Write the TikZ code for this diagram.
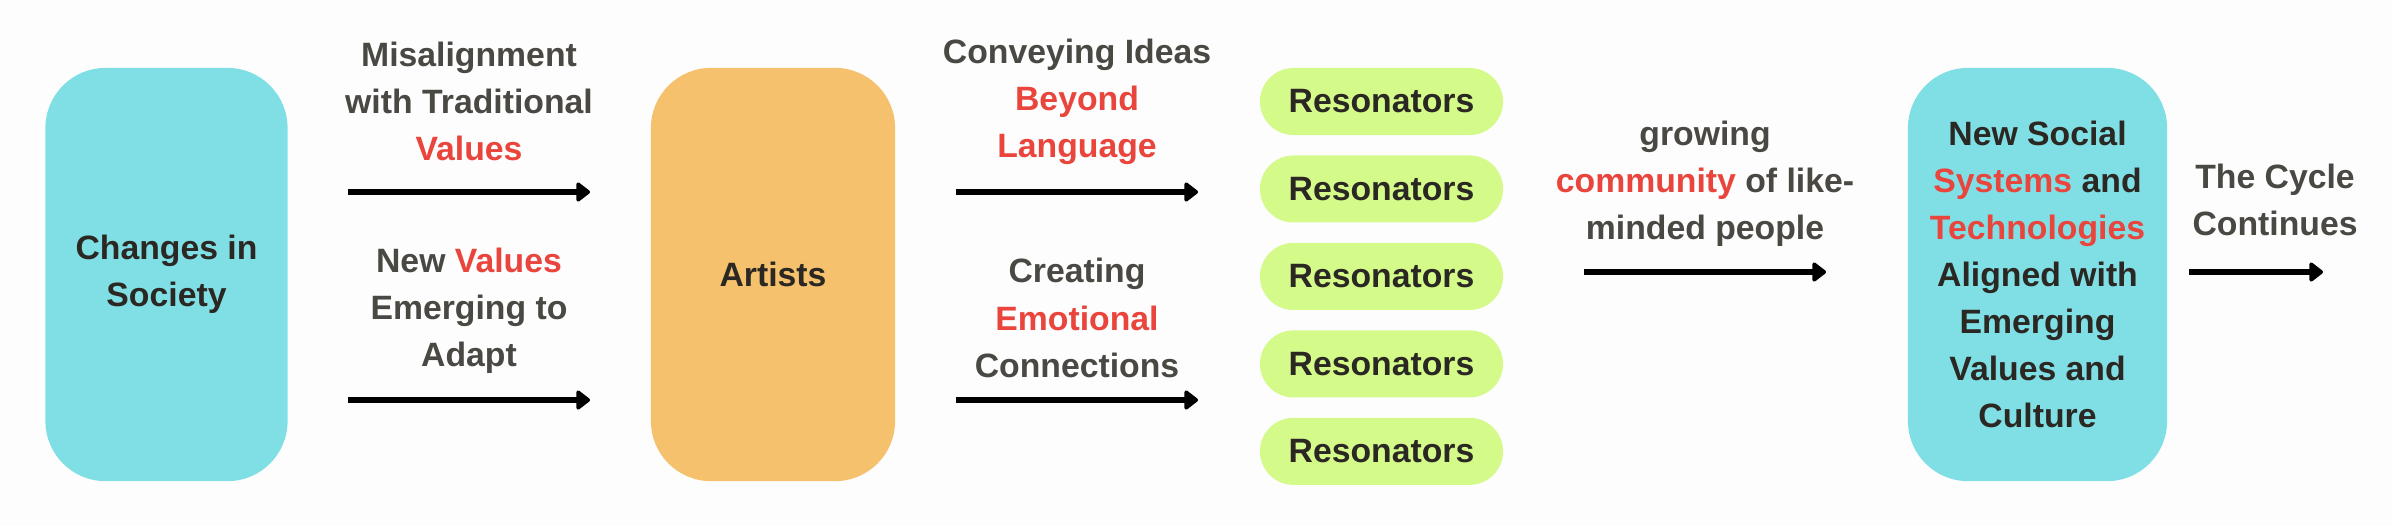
\documentclass[tikz,border=0pt]{standalone}
\usepackage{fontspec}
\setmainfont{Liberation Sans}
\usepackage{color}
\definecolor{mycyan}{RGB}{128,223,228}
\definecolor{myorange}{RGB}{245,193,108}
\definecolor{mylime}{RGB}{212,250,138}
\definecolor{myred}{RGB}{233,69,61}
\definecolor{mygrey}{RGB}{74,72,67}
\definecolor{myblack}{RGB}{43,40,36}
\definecolor{mypaper}{RGB}{253,253,253}
\usepackage{tikz}
\usetikzlibrary{arrows.meta,positioning,calc}
\newcommand{\redword}[1]{\textcolor{myred}{#1}}
\tikzstyle{bigbox}=[fill=mycyan,rounded corners=0.6cm,minimum height=4.13cm,align=center,text=myblack,font=\bfseries\fontsize{9.6}{13.4}\selectfont]
\tikzstyle{pill}=[fill=mylime,rounded corners=0.335cm,minimum width=2.43cm,minimum height=0.67cm,text=myblack,font=\bfseries\fontsize{9.6}{13.4}\selectfont]
\tikzstyle{arrowtext}=[align=center,text=mygrey,font=\bfseries\fontsize{9.6}{13.4}\selectfont]
\tikzstyle{flow}=[line width=0.055cm,-{Triangle[length=0.15cm,width=0.22cm,round]}]

\begin{document}
\begin{tikzpicture}[x=0.01cm,y=-0.01cm]
\fill[mypaper] (0,0) rectangle (2392,526);
\useasboundingbox (0,0) rectangle (2392,526);

% boxes
\node[bigbox,minimum width=2.42cm] (society) at (166.5,274.5) {Changes in\\Society};
\node[bigbox,fill=myorange,minimum width=2.44cm] (artists) at (773,274.5) {Artists};
\node[pill] (res1) at (1381.5,101.5) {Resonators};
\node[pill,below=0.19cm of res1] (res2) {Resonators};
\node[pill,below=0.19cm of res2] (res3) {Resonators};
\node[pill,below=0.19cm of res3] (res4) {Resonators};
\node[pill,below=0.19cm of res4] (res5) {Resonators};
\node[bigbox,minimum width=2.59cm] (systems) at (2037.5,274.5)
  {New Social\\\redword{Systems} and\\\redword{Technologies}\\Aligned with\\Emerging\\Values and\\Culture};

% arrow ends
\coordinate (m1) at (348,192);  \coordinate (m2) at (590,192);
\coordinate (n1) at (348,400);  \coordinate (n2) at (590,400);
\coordinate (c1) at (956,192);  \coordinate (c2) at (1198,192);
\coordinate (e1) at (956,400);  \coordinate (e2) at (1198,400);
\coordinate (g1) at (1584,272); \coordinate (g2) at (1826,272);
\coordinate (t1) at (2189,272); \coordinate (t2) at (2323,272);

\draw[flow] (m1) -- (m2);
\draw[flow] (n1) -- (n2);
\draw[flow] (c1) -- (c2);
\draw[flow] (e1) -- (e2);
\draw[flow] (g1) -- (g2);
\draw[flow] (t1) -- (t2);

% texts over the arrows
\node[arrowtext] (misalign) at (469,101.5) {Misalignment\\with Traditional\\\redword{Values}};
\node[arrowtext] (newvalues) at (469,311) {New \redword{Values}\\Emerging to\\Adapt};
\node[arrowtext] (conveying) at (1077,101.5) {Conveying Ideas\\\redword{Beyond}\\\redword{Language}};
\node[arrowtext] (creating) at (1077,318) {Creating\\\redword{Emotional}\\Connections};
\node[arrowtext] (growing) at (1705,184) {growing\\\redword{community} of like-\\minded people};
\node[arrowtext] (cycle) at (2275,200) {The Cycle\\Continues};
\end{tikzpicture}
\end{document}
